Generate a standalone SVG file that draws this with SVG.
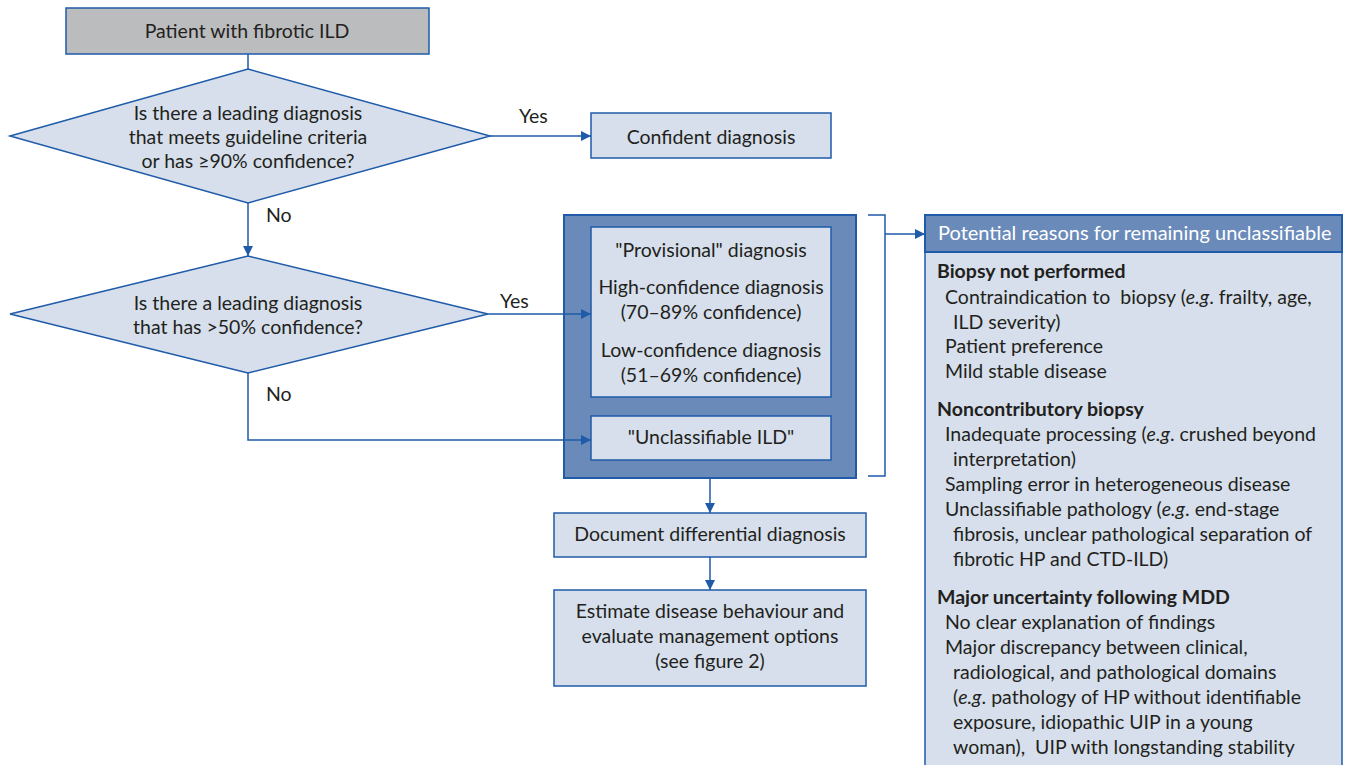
<svg xmlns="http://www.w3.org/2000/svg" width="1346" height="765" viewBox="0 0 1346 765">
<defs>
<marker id="ah" viewBox="0 0 10 10" refX="10" refY="5" markerWidth="10" markerHeight="10" markerUnits="userSpaceOnUse" orient="auto">
<path d="M0,0 L10,5 L0,10 z" fill="#1f5ba8"/>
</marker>
<style>
.t{font-family:Lato,"Liberation Sans",sans-serif;font-size:19.5px;fill:#231f20}
.c{text-anchor:middle}
.b{font-weight:bold}
.lt{fill:#d6dfeb;stroke:#1f5ba8;stroke-width:1.5}
.dk{fill:#6a8bba;stroke:#1f5ba8;stroke-width:2}
.ln{fill:none;stroke:#1f5ba8;stroke-width:1.5}
.w{fill:#ffffff;font-size:20px}
</style>
</defs>
<rect width="1346" height="765" fill="#ffffff"/>
<g id="start">
<rect x="66" y="8" width="363" height="46" fill="#bbbcbe" stroke="#1f5ba8" stroke-width="1.5"/>
<text class="t c" x="247" y="38">Patient with fibrotic ILD</text>
</g>
<g id="decision1">
<polygon class="lt" points="10,136 248,69 490,136 248,203"/>
<text class="t c" x="248" y="120">Is there a leading diagnosis</text>
<text class="t c" x="248" y="144">that meets guideline criteria</text>
<text class="t c" x="248" y="168">or has ≥90% confidence?</text>
</g>
<g id="confident">
<rect class="lt" x="591" y="113" width="240" height="45"/>
<text class="t c" x="711" y="144">Confident diagnosis</text>
</g>
<g id="decision2">
<polygon class="lt" points="10,314 248,256 488,314 248,373"/>
<text class="t c" x="248" y="310">Is there a leading diagnosis</text>
<text class="t c" x="248" y="334">that has &gt;50% confidence?</text>
</g>
<g id="outcome-group">
<rect class="dk" x="564" y="215" width="292" height="263"/>
</g>
<g id="provisional">
<rect class="lt" x="591" y="227" width="240" height="170"/>
<text class="t c" x="711" y="257">"Provisional" diagnosis</text>
<text class="t c" x="711" y="294">High-confidence diagnosis</text>
<text class="t c" x="711" y="319">(70–89% confidence)</text>
<text class="t c" x="711" y="357">Low-confidence diagnosis</text>
<text class="t c" x="711" y="382">(51–69% confidence)</text>
</g>
<g id="unclassifiable">
<rect class="lt" x="591" y="416" width="240" height="44"/>
<text class="t c" x="711" y="444">"Unclassifiable ILD"</text>
</g>
<g id="document">
<rect class="lt" x="554" y="513" width="312" height="44"/>
<text class="t c" x="710" y="541">Document differential diagnosis</text>
</g>
<g id="estimate">
<rect class="lt" x="554" y="590" width="312" height="96"/>
<text class="t c" x="710" y="618">Estimate disease behaviour and</text>
<text class="t c" x="710" y="643">evaluate management options</text>
<text class="t c" x="710" y="668">(see figure 2)</text>
</g>
<g id="reasons">
<rect class="lt" x="925" y="215" width="417" height="560"/>
<rect class="dk" x="925" y="215" width="417" height="37" stroke-width="1.5"/>
<text class="t w" x="938" y="240">Potential reasons for remaining unclassifiable</text>
<text class="t b" x="937" y="278">Biopsy not performed</text>
<text class="t" x="945" y="304" xml:space="preserve">Contraindication to  biopsy (<tspan font-style="italic">e.g</tspan>. frailty, age,</text>
<text class="t" x="953" y="329">ILD severity)</text>
<text class="t" x="945" y="353">Patient preference</text>
<text class="t" x="945" y="378">Mild stable disease</text>
<text class="t b" x="937" y="416">Noncontributory biopsy</text>
<text class="t" x="945" y="441">Inadequate processing (<tspan font-style="italic">e.g</tspan>. crushed beyond</text>
<text class="t" x="953" y="466">interpretation)</text>
<text class="t" x="945" y="491">Sampling error in heterogeneous disease</text>
<text class="t" x="945" y="516">Unclassifiable pathology (<tspan font-style="italic">e.g</tspan>. end-stage</text>
<text class="t" x="953" y="541">fibrosis, unclear pathological separation of</text>
<text class="t" x="953" y="566">fibrotic HP and CTD-ILD)</text>
<text class="t b" x="937" y="604">Major uncertainty following MDD</text>
<text class="t" x="945" y="629">No clear explanation of findings</text>
<text class="t" x="945" y="654">Major discrepancy between clinical,</text>
<text class="t" x="953" y="679">radiological, and pathological domains</text>
<text class="t" x="953" y="704">(<tspan font-style="italic">e.g</tspan>. pathology of HP without identifiable</text>
<text class="t" x="953" y="729">exposure, idiopathic UIP in a young</text>
<text class="t" x="953" y="754" xml:space="preserve">woman),  UIP with longstanding stability</text>
</g>
<g id="connectors">
<line class="ln" x1="248" y1="54" x2="248" y2="69"/>
<line class="ln" x1="490" y1="136" x2="591" y2="136" marker-end="url(#ah)"/>
<line class="ln" x1="248" y1="203" x2="248" y2="256" marker-end="url(#ah)"/>
<line class="ln" x1="488" y1="314" x2="591" y2="314" marker-end="url(#ah)"/>
<polyline class="ln" points="248,373 248,440 591,440" marker-end="url(#ah)"/>
<line class="ln" x1="710" y1="478" x2="710" y2="513" marker-end="url(#ah)"/>
<line class="ln" x1="710" y1="557" x2="710" y2="590" marker-end="url(#ah)"/>
<polyline class="ln" points="868,215 885,215 885,476 868,476"/>
<line class="ln" x1="885" y1="234" x2="925" y2="234" marker-end="url(#ah)"/>
<text class="t" x="519" y="123">Yes</text>
<text class="t" x="266" y="222">No</text>
<text class="t" x="500" y="308">Yes</text>
<text class="t" x="266" y="401">No</text>
</g>
</svg>
